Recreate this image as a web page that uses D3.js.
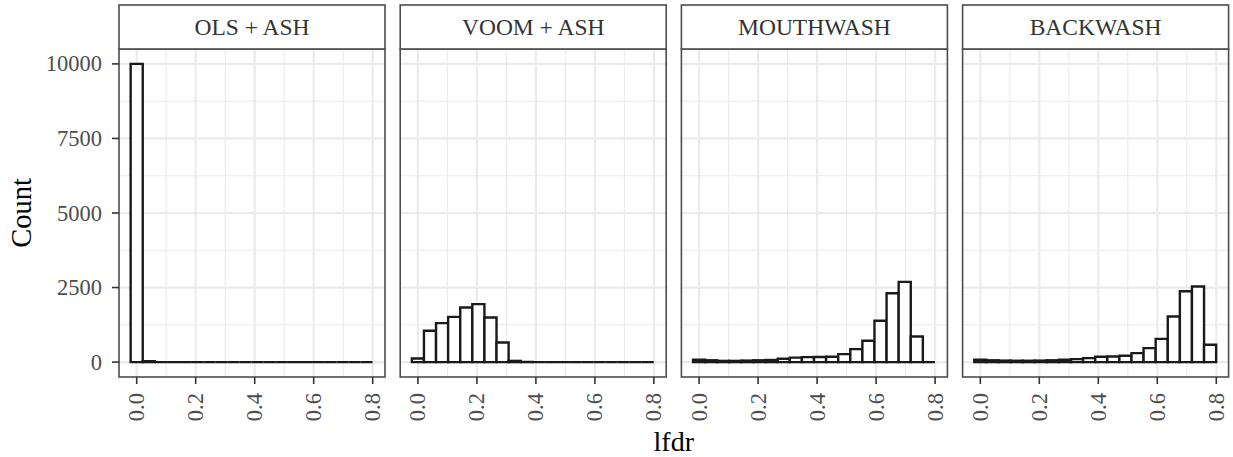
<!DOCTYPE html>
<html><head><meta charset="utf-8">
<script src="https://cdn.jsdelivr.net/npm/d3@7"></script>
<style>
html,body{margin:0;padding:0;background:#fff;}
svg{display:block;font-family:"Liberation Serif","Times New Roman",serif;}
</style></head>
<body>
<svg id="chart" width="1233" height="457"></svg>
<script>
// ---- data ----
const panels = ["OLS + ASH", "VOOM + ASH", "MOUTHWASH", "BACKWASH"];
const binCenters = [0.000, 0.041, 0.082, 0.123, 0.164, 0.205, 0.246, 0.287, 0.328, 0.369,
                    0.410, 0.451, 0.492, 0.533, 0.574, 0.615, 0.656, 0.697, 0.738, 0.779];
const binWidth = 0.041;
const olsAsh    = [10000, 30, 0, 0, 0, 0, 0, 0, 0, 0, 0, 0, 0, 0, 0, 0, 0, 0, 0, 0];
const voomAsh   = [120, 1050, 1307, 1518, 1830, 1943, 1495, 657, 40, 5, 0, 0, 0, 0, 0, 0, 0, 0, 0, 0];
const mouthwash = [80, 60, 40, 40, 50, 60, 70, 110, 150, 165, 170, 180, 268, 435, 714, 1384, 2311, 2690, 858, 0];
const backwash  = [80, 60, 50, 45, 45, 50, 60, 80, 100, 134, 178, 190, 212, 300, 470, 780, 1528, 2378, 2533, 580];
const xTicks = [0.0, 0.2, 0.4, 0.6, 0.8];
const xMinor = [0.1, 0.3, 0.5, 0.7];
const yTicks = [0, 2500, 5000, 7500, 10000];
const yMinor = [1250, 3750, 6250, 8750];
const xTitle = "lfdr", yTitle = "Count";

const series = [olsAsh, voomAsh, mouthwash, backwash];

// ---- layout ----
const svg = d3.select("#chart");
const panelTop = 49, panelBottom = 377, stripTop = 5;
const firstLeft = 119, panelW = 266, panelStep = 281.2;
const borderCol = "#4d4d4d", gridCol = "#ebebeb", barCol = "#1a1a1a";

const x = d3.scaleLinear().domain([-0.06, 0.8417]).range([0, panelW]);
const y = d3.scaleLinear().domain([-500, 10500]).range([panelBottom, panelTop]);

panels.forEach((name, i) => {
  const left = firstLeft + i * panelStep;
  const g = svg.append("g").attr("transform", `translate(${left},0)`);

  // minor grid
  g.selectAll(".ymin").data(yMinor).join("line").attr("class", "ymin")
    .attr("x1", 0).attr("x2", panelW).attr("y1", d => y(d)).attr("y2", d => y(d))
    .attr("stroke", gridCol).attr("stroke-width", 1.1);
  g.selectAll(".xmin").data(xMinor).join("line").attr("class", "xmin")
    .attr("y1", panelTop).attr("y2", panelBottom).attr("x1", d => x(d)).attr("x2", d => x(d))
    .attr("stroke", gridCol).attr("stroke-width", 1.1);
  // major grid
  g.selectAll(".ymaj").data(yTicks).join("line").attr("class", "ymaj")
    .attr("x1", 0).attr("x2", panelW).attr("y1", d => y(d)).attr("y2", d => y(d))
    .attr("stroke", gridCol).attr("stroke-width", 2.2);
  g.selectAll(".xmaj").data(xTicks).join("line").attr("class", "xmaj")
    .attr("y1", panelTop).attr("y2", panelBottom).attr("x1", d => x(d)).attr("x2", d => x(d))
    .attr("stroke", gridCol).attr("stroke-width", 2.2);

  // bars (as closed paths so zero-count bins still show their outline)
  const vals = series[i];
  g.selectAll(".bar").data(binCenters.map((c, k) => ({c, v: vals[k]}))).join("path").attr("class", "bar")
    .attr("d", d => {
      const x0 = x(d.c - binWidth / 2), x1 = x(d.c + binWidth / 2);
      const y0 = y(0), y1 = y(d.v);
      return `M${x0},${y0}L${x0},${y1}L${x1},${y1}L${x1},${y0}Z`;
    })
    .attr("fill", "#fff").attr("stroke", barCol).attr("stroke-width", 2.4)
    .attr("stroke-linejoin", "miter");

  // panel border
  g.append("rect").attr("x", 0).attr("y", panelTop).attr("width", panelW).attr("height", panelBottom - panelTop)
    .attr("fill", "none").attr("stroke", borderCol).attr("stroke-width", 1.6);

  // strip
  g.append("rect").attr("x", 0).attr("y", stripTop).attr("width", panelW).attr("height", panelTop - stripTop)
    .attr("fill", "#fff").attr("stroke", borderCol).attr("stroke-width", 1.6);
  g.append("text").attr("x", panelW / 2).attr("y", (stripTop + panelTop) / 2)
    .attr("text-anchor", "middle").attr("dominant-baseline", "central")
    .attr("font-size", 23.5).attr("fill", "#333").text(name);

  // x axis
  const xa = g.append("g").attr("transform", `translate(0,${panelBottom})`);
  xa.selectAll("line").data(xTicks).join("line")
    .attr("x1", d => x(d)).attr("x2", d => x(d)).attr("y1", 0).attr("y2", 7)
    .attr("stroke", "#333").attr("stroke-width", 1.6);
  xa.selectAll("text").data(xTicks).join("text")
    .attr("transform", d => `translate(${x(d) + 7.5},16) rotate(-90)`)
    .attr("text-anchor", "end").attr("font-size", 22.5).attr("fill", "#4d4d4d")
    .text(d => d3.format(".1f")(d));

  // y axis (first panel only)
  if (i === 0) {
    const ya = g.append("g");
    ya.selectAll("line").data(yTicks).join("line")
      .attr("x1", -7).attr("x2", 0).attr("y1", d => y(d)).attr("y2", d => y(d))
      .attr("stroke", "#333").attr("stroke-width", 1.6);
    ya.selectAll("text").data(yTicks).join("text")
      .attr("x", -17).attr("y", d => y(d)).attr("dominant-baseline", "central")
      .attr("text-anchor", "end").attr("font-size", 22.5).attr("fill", "#4d4d4d")
      .text(d => d);
  }
});

// axis titles
const plotsLeft = firstLeft, plotsRight = firstLeft + 3 * panelStep + panelW;
svg.append("text").attr("x", (plotsLeft + plotsRight) / 2).attr("y", 451)
  .attr("text-anchor", "middle").attr("font-size", 28).attr("fill", "#000").text(xTitle);
svg.append("text").attr("transform", `translate(31,${(panelTop + panelBottom) / 2}) rotate(-90)`)
  .attr("text-anchor", "middle").attr("font-size", 28.5).attr("fill", "#000").text(yTitle);
</script>
</body></html>
